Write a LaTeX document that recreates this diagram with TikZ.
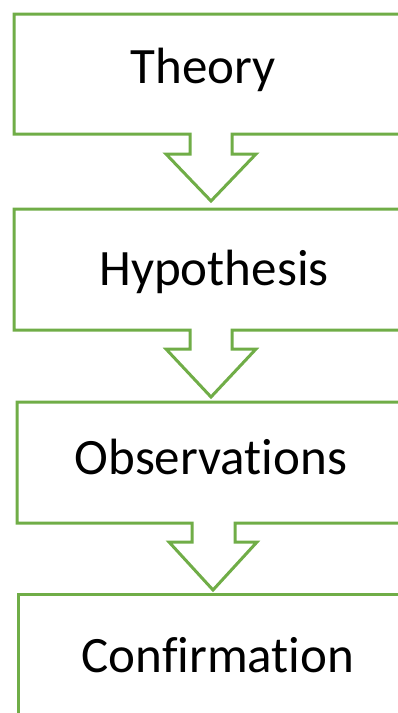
\documentclass[tikz,border=0pt]{standalone}
\usepackage{fontspec}
\setmainfont{Carlito}[Ligatures=NoCommon]
\definecolor{stepgreen}{HTML}{70AD47}
\begin{document}
\begin{tikzpicture}[x=1pt,y=-1pt,
  stepframe/.style={draw=stepgreen, line width=3pt, fill=white, line join=miter},
  steplabel/.style={anchor=base, inner sep=0pt, font=\fontsize{51}{60}\selectfont, text=black}]
\useasboundingbox (0,0) rectangle (398,713);
\clip (0,0) rectangle (398,713);

% Box with a hollow down-arrow leaving its bottom edge:
% #1 left, #2 top, #3 bottom, #4 shaft left, #5 shaft right,
% #6 wing y, #7 wing left, #8 wing right, #9 tip x ; tip y given separately
\newcommand\arrowbox[9]{%
  \path[stepframe] (#1,#2) -- (420,#2) -- (420,#3) -- (#5,#3) -- (#5,#6) -- (#8,#6)
     -- (#9,\tipy) -- (#7,#6) -- (#4,#6) -- (#4,#3) -- (#1,#3) -- cycle;}

\def\tipy{201}\arrowbox{14}{14}{134}{190}{232}{154}{166}{256}{211}
\def\tipy{397}\arrowbox{14}{209}{330}{190}{232}{349}{166}{256}{211}
\def\tipy{590}\arrowbox{17}{402}{523}{192}{235}{542}{169}{257}{213}
\path[stepframe] (18,730) -- (18,594) -- (420,594) -- (420,730) -- cycle;

\node[steplabel] (theory) at (203,83) {Theory};
\node[steplabel] (hypothesis) at (214,285) {Hypothesis};
\node[steplabel] (observations) at (211,474) {Observations};
\node[steplabel] (confirmation) at (218,672) {Confirmation};
\end{tikzpicture}
\end{document}
